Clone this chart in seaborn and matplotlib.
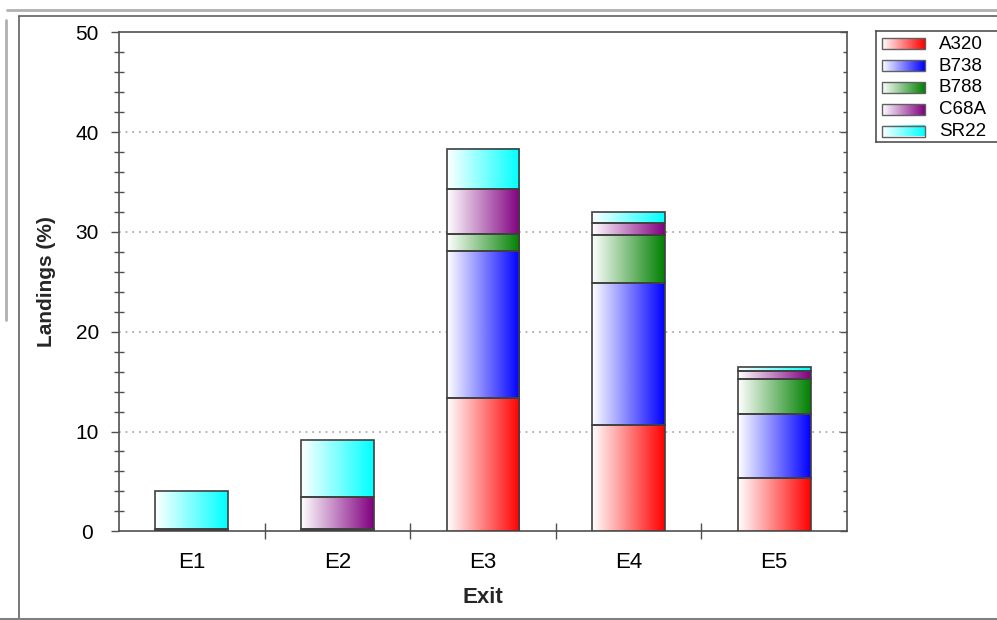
import numpy as np
import pandas as pd
import matplotlib
matplotlib.use("Agg")
import matplotlib.pyplot as plt
import seaborn as sns
from matplotlib.colors import LinearSegmentedColormap, to_rgb
from matplotlib.lines import Line2D
from matplotlib.ticker import MultipleLocator, FixedLocator

# Share of landings (%) per runway exit, split by aircraft type
exits = ["E1", "E2", "E3", "E4", "E5"]
aircraft = ["A320", "B738", "B788", "C68A", "SR22"]
a320 = [0.0, 0.10, 13.40, 10.70, 5.35]
b738 = [0.0, 0.05, 14.70, 14.20, 6.40]
b788 = [0.05, 0.10, 1.70, 4.75, 3.50]
c68a = [0.20, 3.15, 4.45, 1.25, 0.80]
sr22 = [3.80, 5.70, 4.05, 1.05, 0.45]
type_colors = ["#ff0000", "#0000ff", "#008000", "#800080", "#00ffff"]

shares = [a320, b738, b788, c68a, sr22]
df = pd.DataFrame({"Exit": exits, **dict(zip(aircraft, shares))})

sns.set_theme(style="white")
plt.rcParams["font.family"] = ["Liberation Sans", "DejaVu Sans"]

W, H = 997, 620
fig = plt.figure(figsize=(W / 100, H / 100), dpi=100)
fig.patch.set_facecolor("white")
ax = fig.add_axes([119 / W, 1 - 531.3 / H, (847 - 119) / W, (531.3 - 32.3) / H])

edge = "#404040"
bottom = np.zeros(len(exits))
segments = []
for name, col in zip(aircraft, type_colors):
    n_before = len(ax.patches)
    sns.barplot(data=df, x="Exit", y=name, order=exits, bottom=bottom,
                color=col, width=0.5, edgecolor=edge, linewidth=1.2,
                saturation=1, ax=ax, zorder=3)
    for p in ax.patches[n_before:]:
        segments.append((p, col))
    bottom = bottom + df[name].to_numpy()


def white_to(col):
    return LinearSegmentedColormap.from_list("g", [(1, 1, 1), to_rgb(col)])


grad = np.linspace(0.02, 1, 256).reshape(1, -1)
for p, col in segments:
    x, y = p.get_x(), p.get_y()
    w, h = p.get_width(), p.get_height()
    if h > 0:
        ax.imshow(grad, cmap=white_to(col), extent=[x, x + w, y, y + h],
                  aspect="auto", zorder=2.9, interpolation="bilinear")
    p.set_facecolor("none")

ax.set_xlim(-0.5, len(exits) - 0.5)
ax.set_ylim(0, 50)

# axis styling
spine_col = "#505050"
for s in ax.spines.values():
    s.set_visible(True)
    s.set_color(spine_col)
    s.set_linewidth(1.2)

ax.yaxis.set_major_locator(MultipleLocator(10))
ax.yaxis.set_minor_locator(MultipleLocator(2))
ax.xaxis.set_minor_locator(FixedLocator(np.arange(0.5, len(exits) - 0.5, 1)))
ax.tick_params(axis="y", which="major", direction="out", length=5.8, width=1,
               color=spine_col, labelsize=15, pad=17, left=True, right=False,
               labelcolor="black")
for lab in ax.get_yticklabels():
    lab.set_horizontalalignment("center")
ax.tick_params(axis="y", which="minor", direction="inout", length=6.5, width=1,
               color=spine_col, left=True)
ax.tick_params(axis="x", which="major", length=0, labelsize=16, pad=15,
               labelcolor="black")
ax.tick_params(axis="x", which="minor", direction="inout", length=11.5,
               width=1, color=spine_col, bottom=True)

# inward ticks on the right spine
ax2 = ax.twinx()
ax2.set_ylim(ax.get_ylim())
ax2.yaxis.set_major_locator(MultipleLocator(10))
ax2.yaxis.set_minor_locator(MultipleLocator(2))
ax2.tick_params(axis="y", which="major", direction="in", length=5, width=1,
                color=spine_col, labelright=False)
ax2.tick_params(axis="y", which="minor", direction="in", length=3, width=1,
                color=spine_col)
for s in ax2.spines.values():
    s.set_visible(False)

ax.grid(False)
for v in [10, 20, 30, 40]:
    ax.axhline(v, color="#a0a0a0", linestyle=(0, (1, 3)), linewidth=1.2,
               zorder=1)

ax.set_xlabel("Exit", fontsize=16, fontweight="bold", labelpad=10)
ax.set_ylabel("Landings (%)", fontsize=15, fontweight="bold", labelpad=14)

# legend box
lx0, ly0, lx1, ly1 = 876, 31, 1003, 142
lax = fig.add_axes([lx0 / W, 1 - ly1 / H, (lx1 - lx0) / W, (ly1 - ly0) / H])
lax.set_xticks([])
lax.set_yticks([])
lax.set_facecolor("white")
for s in lax.spines.values():
    s.set_color(spine_col)
    s.set_linewidth(1.2)
for i, (name, col) in enumerate(zip(aircraft, type_colors)):
    cy = 12.8 + i * 21.8
    lax.imshow(grad, cmap=white_to(col), extent=[6, 49, cy + 5.5, cy - 5.5],
               aspect="auto", interpolation="bilinear")
    lax.add_patch(plt.Rectangle((6, cy - 5.5), 43, 11, fill=False,
                                edgecolor="#606060", linewidth=1))
    lax.text(63, cy + 0.5, name, fontsize=13.5, va="center", ha="left",
             color="black")
lax.set_xlim(0, lx1 - lx0)
lax.set_ylim(ly1 - ly0, 0)

# window frame
def fig_line(xs, ys, **kw):
    fig.add_artist(Line2D([x / W for x in xs], [1 - y / H for y in ys],
                          transform=fig.transFigure, **kw))

fig_line([7, W], [10, 10], color="#b0b0b0", linewidth=2)
fig_line([5.5, 5.5], [20, 320], color="#b0b0b0", linewidth=2)
fig_line([19, W], [16, 16], color="#606060", linewidth=1.2)
fig_line([19, 19], [16, H], color="#606060", linewidth=1.2)
fig_line([0, W], [619, 619], color="#808080", linewidth=1.5)

fig.savefig("out.png", dpi=100)
